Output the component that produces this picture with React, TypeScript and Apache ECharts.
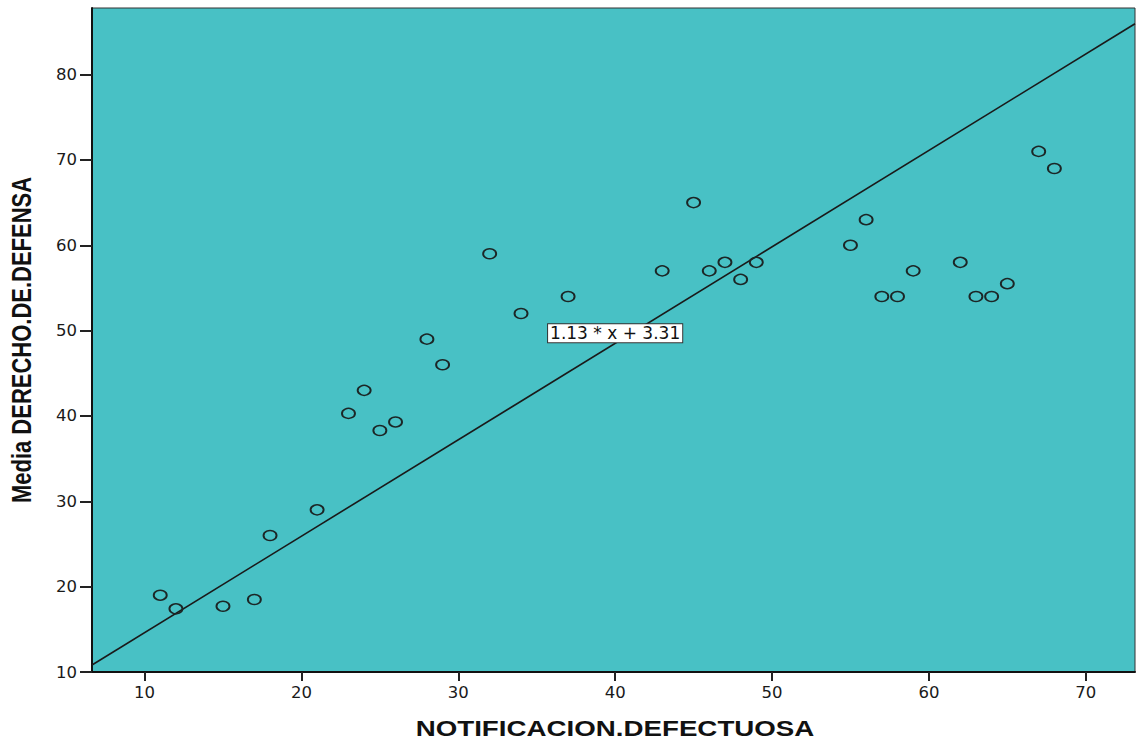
import React, { useEffect, useRef } from "react";
import * as echarts from "echarts";

const xValues = [11, 12, 15, 17, 18, 21, 23, 24, 25, 26, 28, 29, 32, 34, 37, 43, 45, 46, 47, 48, 49, 55, 56, 57, 58, 59, 62, 63, 64, 65, 67, 68];
const yValues = [19, 17.4, 17.7, 18.5, 26, 29, 40.3, 43, 38.3, 39.3, 49, 46, 59, 52, 54, 57, 65, 57, 58, 56, 58, 60, 63, 54, 54, 57, 58, 54, 54, 55.5, 71, 69];
const xTicks = [10, 20, 30, 40, 50, 60, 70];
const yTicks = [10, 20, 30, 40, 50, 60, 70, 80];
const slope = 1.13;
const intercept = 3.31;
const equationText = "1.13 * x + 3.31";
const equationAt = [40, 49.7];
const xRange = [6.65, 73.14];
const yRange = [10, 87.8];
const xTitle = "NOTIFICACION.DEFECTUOSA";
const yTitle = "Media DERECHO.DE.DEFENSA";

export default function App() {
  const ref = useRef<HTMLDivElement>(null);
  useEffect(() => {
    if (!ref.current) return;
    const chart = echarts.init(ref.current, undefined, { renderer: "svg" });
    const points = xValues.map((x, i) => [x, yValues[i]]);
    const fitLine = [
      [xRange[0], slope * xRange[0] + intercept],
      [xRange[1], slope * xRange[1] + intercept],
    ];
    const tickFont = { fontFamily: "DejaVu Sans", fontSize: 16.5, color: "#1a1a1a" };
    chart.setOption({
      animation: false,
      grid: {
        left: 92,
        right: 1,
        top: 8,
        bottom: 70,
        show: true,
        backgroundColor: "#48C1C5",
        borderColor: "#333",
        borderWidth: 1,
      },
      xAxis: {
        type: "value",
        min: xRange[0],
        max: xRange[1],
        splitLine: { show: false },
        axisLine: { show: true, lineStyle: { color: "#111", width: 2 } },
        axisTick: { show: true, length: 9, lineStyle: { color: "#222", width: 2 }, customValues: xTicks },
        axisLabel: { ...tickFont, margin: 12, customValues: xTicks },
      },
      yAxis: {
        type: "value",
        min: yRange[0],
        max: yRange[1],
        splitLine: { show: false },
        axisLine: { show: true, lineStyle: { color: "#111", width: 2 } },
        axisTick: { show: true, length: 12, lineStyle: { color: "#222", width: 2 }, customValues: yTicks },
        axisLabel: { ...tickFont, margin: 15, customValues: yTicks },
      },
      graphic: [
        {
          type: "text",
          x: 615,
          y: 728,
          scaleX: 1.26,
          style: {
            text: xTitle,
            font: 'bold 22px "Liberation Sans"',
            fill: "#111",
            textAlign: "center",
            textVerticalAlign: "middle",
            align: "center",
            verticalAlign: "middle",
          },
        },
        {
          type: "text",
          x: 22,
          y: 340,
          rotation: Math.PI / 2,
          scaleY: 1.22,
          style: {
            text: yTitle,
            font: 'bold 22px "Liberation Sans"',
            fill: "#111",
            textAlign: "center",
            textVerticalAlign: "middle",
            align: "center",
            verticalAlign: "middle",
          },
        },
      ],
      series: [
        {
          type: "line",
          data: fitLine,
          symbol: "none",
          lineStyle: { color: "#1a1a1a", width: 1.6 },
          z: 2,
        },
        {
          type: "scatter",
          data: points,
          symbol: "circle",
          symbolSize: [13, 10],
          itemStyle: { color: "rgba(0,0,0,0)", borderColor: "#1c2626", borderWidth: 1.7, opacity: 1 },
          z: 3,
        },
        {
          type: "scatter",
          data: [equationAt],
          symbolSize: 0,
          z: 5,
          itemStyle: { opacity: 1 },
          label: {
            show: true,
            position: "inside",
            formatter: equationText,
            fontFamily: "DejaVu Sans",
            fontSize: 17,
            color: "#111",
            opacity: 1,
            backgroundColor: "#ffffff",
            borderColor: "#333",
            borderWidth: 1,
            padding: [1, 2, 0, 2],
          },
        },
      ],
    });
    return () => chart.dispose();
  }, []);
  return <div ref={ref} style={{ position: "absolute", left: 0, top: 0, width: 1136, height: 742 }} />;
}
